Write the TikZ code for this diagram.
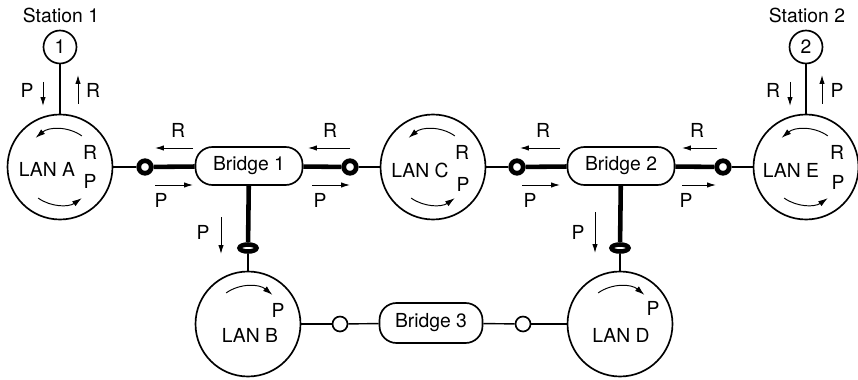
\documentclass[tikz,border=0pt]{standalone}
\usepackage{fontspec}
\setmainfont{TeX Gyre Heros}
\usetikzlibrary{arrows.meta,positioning,shapes.geometric,calc}

\begin{document}
\begin{tikzpicture}[
x=0.02cm, y=0.02cm,
font=\fontsize{11}{13}\selectfont,
lan/.style={draw, circle, line width=0.95pt, minimum size=2.1cm, inner sep=0pt},
station/.style={draw, circle, line width=0.95pt, minimum size=0.66cm, inner sep=0pt},
bridge/.style={draw, rounded corners=0.34cm, line width=0.95pt, minimum width=2.14cm, minimum height=0.76cm, inner sep=0pt},
port/.style={draw, circle, line width=2.7pt, fill=white, minimum size=0.25cm, inner sep=0pt},
tap/.style={draw, ellipse, line width=2.6pt, fill=white, minimum width=0.34cm, minimum height=0.14cm, inner sep=0pt},
hole/.style={draw, circle, line width=0.95pt, fill=white, minimum size=0.3cm, inner sep=0pt},
link/.style={line width=0.8pt},
trunk/.style={line width=2.6pt},
flow/.style={-{Latex[length=5pt,width=3pt]}, line width=0.55pt},
cyc/.style={-{Latex[length=5.5pt,width=3.4pt]}, line width=0.55pt}
]
\useasboundingbox (0,0) rectangle (858,379);

% stations
\node[station] (st1) at (60,332) {1};
\node[station] (st2) at (806,332) {2};
\node (st1lbl) at (61,364) {Station 1};
\node (st2lbl) at (807,364) {Station 2};

% LANs
\node[lan] (lanA) at (60,212) {};
\node[lan] (lanC) at (433,212) {};
\node[lan] (lanE) at (806,212) {};
\node[lan] (lanB) at (248,55) {};
\node[lan] (lanD) at (620,55) {};

% bridges
\node[bridge] (br1) at (249,213) {Bridge 1};
\node[bridge] (br2) at (621,213) {Bridge 2};
\node[bridge, minimum width=2.06cm, minimum height=0.8cm] (br3) at (431,56) {Bridge 3};

% ports
\node[port] (pA) at (145,212) {};
\node[port] (pC1) at (350,212) {};
\node[port] (pC2) at (517,212) {};
\node[port] (pE) at (723,212) {};
\node[tap] (pB) at (248,131) {};
\node[tap] (pD) at (620,131) {};
\node[hole] (pB3) at (340,55) {};
\node[hole] (pD3) at (523,55) {};

% links
\draw[link] (st1) -- (lanA);
\draw[link] (st2) -- (lanE);
\draw[link] (lanA) -- (pA);
\draw[trunk] (pA) -- (br1);
\draw[trunk] (br1) -- (pC1);
\draw[link] (pC1) -- (lanC);
\draw[link] (lanC) -- (pC2);
\draw[trunk] (pC2) -- (br2);
\draw[trunk] (br2) -- (pE);
\draw[link] (pE) -- (lanE);
\draw[trunk] (br1) -- (pB);
\draw[link] (pB) -- (lanB);
\draw[trunk] (br2) -- (pD);
\draw[link] (pD) -- (lanD);
\draw[link] (lanB) -- (pB3);
\draw[link] (pB3) -- (br3);
\draw[link] (br3) -- (pD3);
\draw[link] (pD3) -- (lanD);

% LAN texts
\node (lanAname) at (47,210) {LAN A};
\node (lanAr) at (90,227) {R};
\node (lanAp) at (90,198) {P};
\node (lanCname) at (420,209) {LAN C};
\node (lanCr) at (462,227) {R};
\node (lanCp) at (463,195) {P};
\node (lanEname) at (791,209) {LAN E};
\node (lanEr) at (837,227) {R};
\node (lanEp) at (838,197) {P};
\node (lanBname) at (250,44) {LAN B};
\node (lanBp) at (278,69) {P};
\node (lanDname) at (621,44) {LAN D};
\node (lanDp) at (653,71) {P};

% circulation inside the rings
\foreach \ring in {lanA,lanC,lanE}{
  \draw[cyc] ($(\ring.center)+(55:38)$) arc[start angle=55, end angle=130, radius=38];
  \draw[cyc] ($(\ring.center)+(235:38)$) arc[start angle=235, end angle=305, radius=38];
}
\foreach \ring in {lanB,lanD}
  \draw[cyc] ($(\ring.center)+(125:38)$) arc[start angle=125, end angle=50, radius=38];

% frame directions at the stations
\draw[flow] (43,297) -- (43,273);
\node (s1p) at (27,289) {P};
\draw[flow] (78,275) -- (78,304);
\node (s1r) at (93,289) {R};
\draw[flow] (790,297) -- (790,273);
\node (s2r) at (773,289) {R};
\draw[flow] (822,275) -- (822,304);
\node (s2p) at (837,289) {P};

% frame directions along the chain
\draw[flow] (193,231) -- (155,231);
\node (r1) at (178,249) {R};
\draw[flow] (155,194) -- (193,194);
\node (p1) at (161,179) {P};
\draw[flow] (350,231) -- (308,231);
\node (r2) at (330,249) {R};
\draw[flow] (312,194) -- (350,194);
\node (p2) at (320,179) {P};
\draw[flow] (560,231) -- (520,231);
\node (r3) at (543,249) {R};
\draw[flow] (522,194) -- (560,194);
\node (p3) at (530,179) {P};
\draw[flow] (717,231) -- (682,231);
\node (r4) at (697,249) {R};
\draw[flow] (682,194) -- (716,194);
\node (p4) at (686,179) {P};

% frame directions down to LAN B and LAN D
\draw[flow] (221,162) -- (221,125);
\node (p5) at (203,147) {P};
\draw[flow] (595,167) -- (595,126);
\node (p6) at (578,147) {P};
\end{tikzpicture}
\end{document}
